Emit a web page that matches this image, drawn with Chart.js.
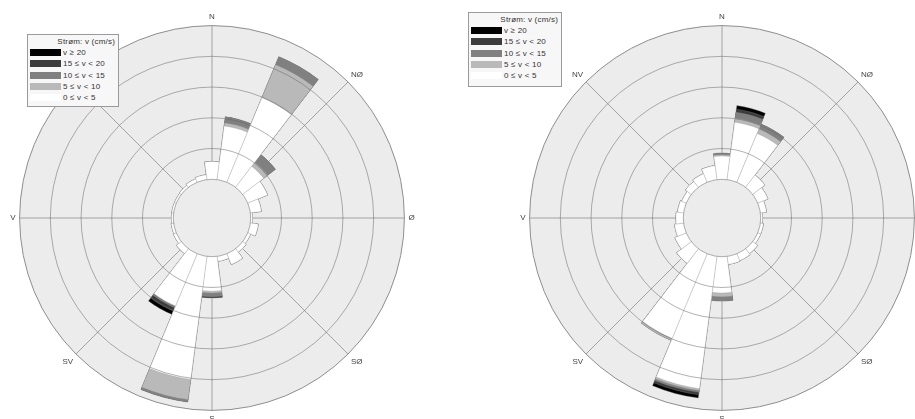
<!DOCTYPE html>
<html>
<head>
<meta charset="utf-8">
<script src="https://cdn.jsdelivr.net/npm/chart.js@4.4.1/dist/chart.umd.min.js"></script>
<style>
  html, body { margin: 0; padding: 0; background: #ffffff; }
  #wrap { position: relative; width: 915px; height: 419px; overflow: hidden; }
  #wrap canvas { position: absolute; top: 0; }
  .legend {
    position: absolute; box-sizing: border-box;
    border: 1px solid #9a9a9a; background: #f7f7f7;
    font-family: "Liberation Sans", Arial, sans-serif; font-size: 8px; color: #333;
    line-height: 11.2px; padding: 1px 3px 0 2px; letter-spacing: 0.2px;
  }
  .legend .t { text-align: right; height: 11.2px; }
  .legend .i { display: flex; align-items: center; white-space: nowrap; height: 11.2px; }
  .legend .s { width: 31px; height: 7px; margin-right: 2px; flex: none; }
</style>
</head>
<body>
<div id="wrap">
  <canvas id="roseA" width="440" height="425" style="left:-8px"></canvas>
  <canvas id="roseB" width="440" height="425" style="left:502px"></canvas>
  <div class="legend" id="legendA" style="left:27px;top:34px;width:92px;height:73px"></div>
  <div class="legend" id="legendB" style="left:468px;top:12px;width:94px;height:75px"></div>
</div>
<script>
// Direction sectors (15° each, centred on the label direction)
const directions = ['0°','15°','30°','45°','60°','75°','90°','105°','120°','135°','150°','165°',
                    '180°','195°','210°','225°','240°','255°','270°','285°','300°','315°','330°','345°'];
const compassLabels = ['N', 'NØ', 'Ø', 'SØ', 'S', 'SV', 'V', 'NV'];
const speedClasses = ['0 ≤ v < 5', '5 ≤ v < 10', '10 ≤ v < 15', '15 ≤ v < 20', 'v ≥ 20'];
const classColors = ['#ffffff', '#b9b9b9', '#808080', '#3c3c3c', '#000000'];
const legendTitle = 'Strøm: v (cm/s)';
// Frequency rings (%)
const ringValues = [0, 5, 10, 15, 20, 25];

// Rose A: frequency (%) per direction for each speed class
const roseA_v0_5   = [2.9, 8.8, 14.9, 4.3, 3.5, 1.8, 0.3, 1.3, 0.5, 0.7, 1.9, 0.8, 5.6, 20.2, 9.2, 1.0, 0.5, 0.4, 0.3, 0.3, 0.3, 0.4, 0.6, 0.8];
const roseA_v5_10  = [0, 0.5, 5.8, 0.8, 0, 0, 0, 0, 0, 0, 0, 0, 0.3, 3.3, 0, 0, 0, 0, 0, 0, 0, 0, 0, 0];
const roseA_v10_15 = [0, 1.0, 1.4, 1.6, 0, 0, 0, 0, 0, 0, 0, 0, 0.6, 0.4, 0.3, 0, 0, 0, 0, 0, 0, 0, 0, 0];
const roseA_v15_20 = [0, 0, 0, 0, 0, 0, 0, 0, 0, 0, 0, 0, 0.2, 0, 0.6, 0, 0, 0, 0, 0, 0, 0, 0, 0];
const roseA_v20    = [0, 0, 0, 0, 0, 0, 0, 0, 0, 0, 0, 0, 0, 0, 0.6, 0, 0, 0, 0, 0, 0, 0, 0, 0];

// Rose B: frequency (%) per direction for each speed class
const roseB_v0_5   = [3.8, 9.4, 8.6, 2.5, 1.8, 1.0, 0.3, 0.5, 0.5, 1.0, 1.2, 1.3, 5.9, 21.7, 14.9, 3.0, 2.0, 1.5, 1.2, 1.0, 0.8, 1.2, 1.5, 2.3];
const roseB_v5_10  = [0.2, 0.65, 0.75, 0, 0, 0, 0, 0, 0, 0, 0, 0, 0.6, 0.3, 0.35, 0, 0, 0, 0, 0, 0, 0, 0, 0];
const roseB_v10_15 = [0.25, 1.0, 0.9, 0, 0, 0, 0, 0, 0, 0, 0, 0, 0.7, 0.3, 0, 0, 0, 0, 0, 0, 0, 0, 0, 0];
const roseB_v15_20 = [0, 0.5, 0, 0, 0, 0, 0, 0, 0, 0, 0, 0, 0, 0.4, 0, 0, 0, 0, 0, 0, 0, 0, 0, 0];
const roseB_v20    = [0, 0.6, 0, 0, 0, 0, 0, 0, 0, 0, 0, 0, 0, 0.55, 0, 0, 0, 0, 0, 0, 0, 0, 0, 0];

const diskColor = '#ececec';
const fontFamily = '"Liberation Sans", Arial, sans-serif';
const rMin = -6.3;   // leaves an empty calm circle around the centre
const rMax = 25;

// Clear the centre of the rose (calm circle) before the rings are drawn on top
const calmHole = {
  id: 'calmHole',
  afterDatasetsDraw(chart) {
    const r = chart.scales.r;
    const ctx = chart.ctx;
    ctx.save();
    ctx.beginPath();
    ctx.arc(r.xCenter, r.yCenter, r.getDistanceFromCenterForValue(0), 0, Math.PI * 2);
    ctx.fillStyle = diskColor;
    ctx.fill();
    ctx.restore();
  }
};

// Boxed legend listing the speed classes from fastest to slowest
const htmlLegend = {
  id: 'htmlLegend',
  afterUpdate(chart, args, opts) {
    const box = document.getElementById(opts.containerID);
    box.innerHTML = '';
    const t = document.createElement('div');
    t.className = 't';
    t.textContent = opts.title;
    box.appendChild(t);
    chart.data.datasets.slice().reverse().forEach(ds => {
      const row = document.createElement('div');
      row.className = 'i';
      const sw = document.createElement('span');
      sw.className = 's';
      sw.style.background = ds.backgroundColor;
      const tx = document.createElement('span');
      tx.textContent = ds.label;
      row.append(sw, tx);
      box.appendChild(row);
    });
  }
};

function makeRose(canvasId, legendId, classes) {
  // stacked rose: each class is drawn as the cumulative frequency, slower classes on top
  const cumulative = [];
  classes.forEach((arr, k) => {
    cumulative.push(arr.map((v, i) => (k ? cumulative[k - 1][i] : 0) + v));
  });
  const datasets = cumulative.map((data, k) => ({
    label: speedClasses[k],
    data: data,
    backgroundColor: classColors[k],
    borderColor: 'rgba(150,150,150,0.6)',
    borderWidth: 0.5,
    rAxisID: 'r'
  }));

  return new Chart(document.getElementById(canvasId), {
    type: 'polarArea',
    data: { labels: directions, datasets: datasets },
    plugins: [calmHole, htmlLegend],
    options: {
      responsive: false,
      animation: false,
      layout: { padding: { left: 0, top: 13, right: 0, bottom: 0 } },
      plugins: {
        legend: { display: false },
        tooltip: { enabled: false },
        htmlLegend: { containerID: legendId, title: legendTitle }
      },
      scales: {
        compass: {
          type: 'radialLinear', axis: 'r', weight: 0,
          labels: compassLabels,
          startAngle: 0, min: rMin, max: rMax,
          backgroundColor: diskColor,
          grid: { display: false, circular: true },
          angleLines: { display: true, color: '#a2a2a2', lineWidth: 1 },
          pointLabels: { display: true, padding: 4, color: '#444', font: { family: fontFamily, size: 8 } },
          ticks: { display: false }
        },
        r: {
          type: 'radialLinear', axis: 'r', weight: 1,
          startAngle: -7.5, min: rMin, max: rMax,
          grid: {
            display: true, circular: true, z: 1, lineWidth: 1,
            color: ctx => ctx.index === ringValues.length - 1 ? '#8e8e8e' : 'rgba(100,100,100,0.5)'
          },
          angleLines: { display: false },
          pointLabels: { display: false },
          ticks: { display: false },
          afterBuildTicks: s => { s.ticks = ringValues.map(v => ({ value: v })); },
          afterFit: s => {
            const c = s.chart.scales.compass;
            s.xCenter = c.xCenter;
            s.yCenter = c.yCenter;
            s.drawingArea = c.drawingArea;
          }
        }
      }
    }
  });
}

makeRose('roseA', 'legendA', [roseA_v0_5, roseA_v5_10, roseA_v10_15, roseA_v15_20, roseA_v20]);
makeRose('roseB', 'legendB', [roseB_v0_5, roseB_v5_10, roseB_v10_15, roseB_v15_20, roseB_v20]);
</script>
</body>
</html>
